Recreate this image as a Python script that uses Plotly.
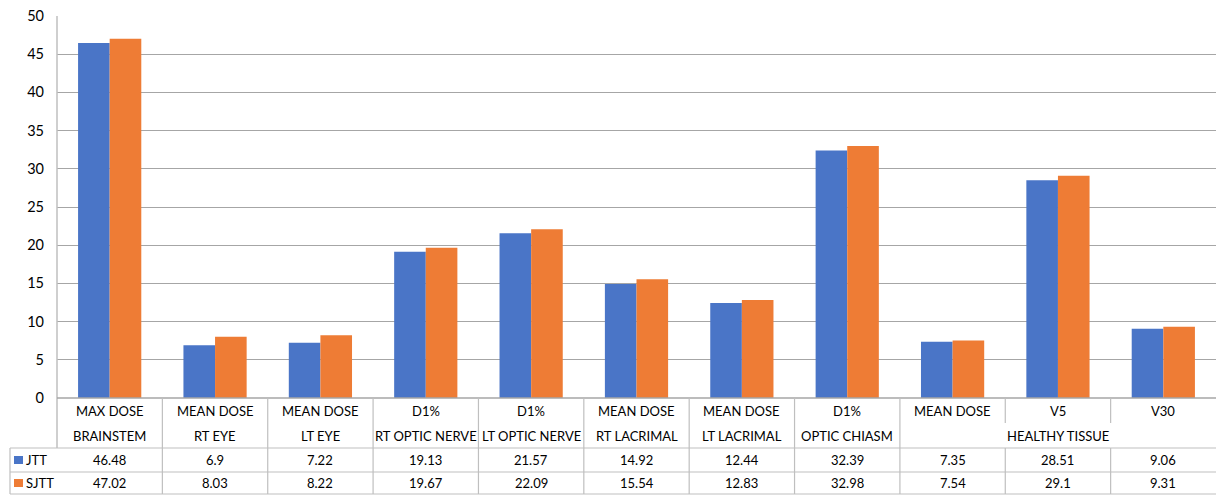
import plotly.graph_objects as go

# ---- data ----
cat_line1 = ["MAX DOSE", "MEAN DOSE", "MEAN DOSE", "D1%", "D1%", "MEAN DOSE",
             "MEAN DOSE", "D1%", "MEAN DOSE", "V5", "V30"]
cat_line2 = ["BRAINSTEM", "RT EYE", "LT EYE", "RT OPTIC NERVE", "LT OPTIC NERVE",
             "RT LACRIMAL", "LT LACRIMAL", "OPTIC CHIASM", "", "", ""]
group_label = "HEALTHY TISSUE"
group_members = [8, 9, 10]
series_names = ["JTT", "SJTT"]
jtt = [46.48, 6.9, 7.22, 19.13, 21.57, 14.92, 12.44, 32.39, 7.35, 28.51, 9.06]
sjtt = [47.02, 8.03, 8.22, 19.67, 22.09, 15.54, 12.83, 32.98, 7.54, 29.1, 9.31]
y_ticks = [0, 5, 10, 15, 20, 25, 30, 35, 40, 45, 50]

# ---- styling ----
W, H = 1216, 495
ML, MR, MT, MB = 57, 0, 16, 97
PW, PH = W - ML - MR, H - MT - MB
colors = ["#4A75C7", "#EE7C35"]
FONT = "Lato"
GRID = "#A6A6A6"
LINE = "#BFBFBF"


def py(pix):  # pixel y -> paper y
    return ((MT + PH) - pix) / PH


def px(pix):  # pixel x -> paper x
    return (pix - ML) / PW


n = len(cat_line1)
xs = list(range(n))
fig = go.Figure()
bw = 0.3
for i, (name, vals) in enumerate(zip(series_names, [jtt, sjtt])):
    fig.add_trace(go.Bar(
        x=xs, y=vals, name=name, width=bw, offset=-bw if i == 0 else 0,
        marker=dict(color=colors[i], line=dict(width=0)),
        showlegend=False,
    ))

shapes = []
annotations = []
# left axis line extending into category rows
shapes.append(dict(type="line", xref="paper", yref="paper", x0=0, x1=0,
                   y0=py(448), y1=1, line=dict(color=LINE, width=1.5)))
# x axis line
shapes.append(dict(type="line", xref="paper", yref="paper", x0=0, x1=1,
                   y0=0, y1=0, line=dict(color=GRID, width=1.5)))
# table horizontal lines
for yy in [448, 472, 494]:
    shapes.append(dict(type="line", xref="paper", yref="paper", x0=px(10), x1=1,
                       y0=py(yy), y1=py(yy), line=dict(color=LINE, width=1.2)))
# left border of table
shapes.append(dict(type="line", xref="paper", yref="paper", x0=px(10), x1=px(10),
                   y0=py(448), y1=py(494), line=dict(color=LINE, width=1.2)))
# vertical separators
for k in range(1, n):
    xb = k - 0.5
    inner = (k - 1) in group_members and k in group_members
    if inner:
        shapes.append(dict(type="line", xref="x", yref="paper", x0=xb, x1=xb,
                           y0=0, y1=py(423), line=dict(color=LINE, width=1.2)))
        shapes.append(dict(type="line", xref="x", yref="paper", x0=xb, x1=xb,
                           y0=py(448), y1=py(494), line=dict(color=LINE, width=1.2)))
    else:
        shapes.append(dict(type="line", xref="x", yref="paper", x0=xb, x1=xb,
                           y0=0, y1=py(494), line=dict(color=LINE, width=1.2)))

tfont = dict(family=FONT, size=13, color="#000000")
for i in range(n):
    annotations.append(dict(x=i, y=py(411), xref="x", yref="paper", text=cat_line1[i],
                            showarrow=False, font=tfont, xanchor="center", yanchor="middle"))
    if cat_line2[i]:
        annotations.append(dict(x=i, y=py(436), xref="x", yref="paper", text=cat_line2[i],
                                showarrow=False, font=tfont, xanchor="center", yanchor="middle"))
    annotations.append(dict(x=i, y=py(460), xref="x", yref="paper", text=str(jtt[i]),
                            showarrow=False, font=tfont, xanchor="center", yanchor="middle"))
    annotations.append(dict(x=i, y=py(483), xref="x", yref="paper", text=str(sjtt[i]),
                            showarrow=False, font=tfont, xanchor="center", yanchor="middle"))
gx = sum(group_members) / len(group_members)
annotations.append(dict(x=gx, y=py(436), xref="x", yref="paper", text=group_label,
                        showarrow=False, font=tfont, xanchor="center", yanchor="middle"))

# legend keys in table
for j, (name, yc) in enumerate(zip(series_names, [460, 483])):
    shapes.append(dict(type="rect", xref="paper", yref="paper", x0=px(14), x1=px(23),
                       y0=py(yc + 4), y1=py(yc - 4), fillcolor=colors[j],
                       line=dict(width=0)))
    annotations.append(dict(x=px(24), y=py(yc), xref="paper", yref="paper", text=name,
                            showarrow=False, font=tfont, xanchor="left", yanchor="middle"))

fig.update_layout(
    width=W, height=H,
    margin=dict(l=ML, r=MR, t=MT, b=MB),
    paper_bgcolor="white", plot_bgcolor="white",
    barmode="overlay",
    shapes=shapes, annotations=annotations,
    xaxis=dict(range=[-0.5, n - 0.5], showticklabels=False, showgrid=False,
               zeroline=False, showline=False, ticks=""),
    yaxis=dict(range=[0, 50], tickvals=y_ticks, showgrid=True, gridcolor=GRID,
               gridwidth=1.2, zeroline=False, showline=False, ticks="",
               ticklabelstandoff=12,
               tickfont=dict(family=FONT, size=14.5, color="#000000")),
    font=dict(family=FONT),
)

fig.write_html("out.html", config={"displayModeBar": False},
               post_script="document.body.style.margin='0';document.body.style.overflow='hidden';")
